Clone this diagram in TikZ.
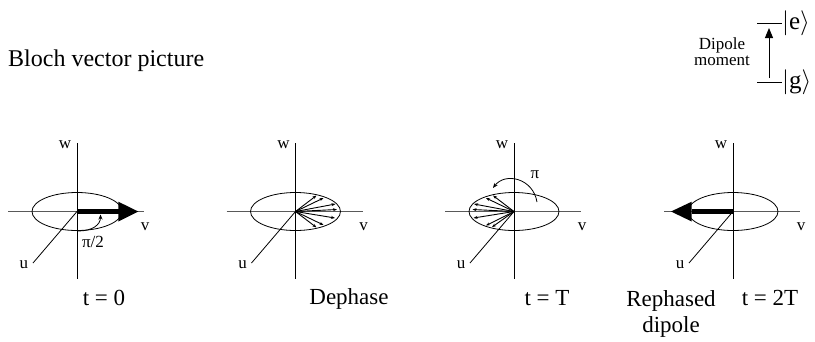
\documentclass[tikz,border=0pt]{standalone}
\usepackage{fix-cm}
\usepackage{fontspec}
\setmainfont{Liberation Serif}
\usetikzlibrary{arrows.meta}
\begin{document}
\begin{tikzpicture}[x=1pt,y=-1pt,
  vaxis/.style={line width=0.8pt},
  haxis/.style={line width=0.8pt, black!65},
  ell/.style={line width=0.8pt},
  lbl/.style={font=\fontsize{17}{20}\selectfont, inner sep=0pt, anchor=base},
  capt/.style={font=\fontsize{23}{26}\selectfont, inner sep=0pt, anchor=base},
  spin/.style={line width=0.9pt, -{Stealth[length=4pt,width=3pt]}},
  rot/.style={line width=0.8pt, -{Stealth[length=5pt,width=4pt]}},
  ]
\useasboundingbox (0,0) rectangle (815,341);

% title
\node[font=\fontsize{24}{28}\selectfont, inner sep=0pt, anchor=base west] (title) at (8,66) {Bloch vector picture};

% dipole inset
\coordinate (e1) at (757,23); \coordinate (e2) at (782,23);
\coordinate (g1) at (757,82); \coordinate (g2) at (782,82);
\draw[line width=0.8pt] (e1) -- (e2);
\draw[line width=0.8pt] (g1) -- (g2);
\coordinate (da) at (769,78); \coordinate (db) at (769,28);
\draw[line width=0.9pt, -{Triangle[length=10pt,width=8pt]}] (da) -- (db);
\node[font=\fontsize{25}{28}\selectfont, inner sep=0pt, anchor=west] (ke) at (782,23) {$|$e$\rangle$};
\node[font=\fontsize{25}{28}\selectfont, inner sep=0pt, anchor=west] (kg) at (782,82) {$|$g$\rangle$};
\node[lbl] (dip1) at (722,49) {Dipole};
\node[lbl] (dip2) at (722,65) {moment};

% four Bloch diagrams
\foreach \n/\x in {1/77,2/295.5,3/514,4/733} {
  \coordinate (c\n) at (\x,211.5);
  \coordinate (u\n) at (\x-44,263);
  \draw[haxis] (\x-69,211.5) -- (\x+67,211.5);
  \draw[vaxis] (\x,143) -- (\x,279);
  \draw[ell] (c\n) ellipse [x radius=45, y radius=19];
  \draw[line width=0.8pt] (c\n) -- (u\n);
  \node[lbl] (w\n) at (\x-12,148) {w};
  \node[lbl] (v\n) at (\x+68,230) {v};
  \node[lbl] (ul\n) at (\x-53,268) {u};
}

% diagram 1: pi/2 pulse, vector along v
\fill (77,209.3) rectangle (119,214);
\fill (118.3,201.7) -- (138.3,211.5) -- (118.3,221.5) -- cycle;
\coordinate (r1a) at (78,231);
\coordinate (r1b) at (100.5,214.5);
\draw[rot] (r1a) .. controls (92,231) and (100.5,225) .. (r1b);
\node[lbl] (p2) at (93,247) {π/2};
\node[capt] (t0) at (104,305) {t = 0};

% diagram 2: dephasing
\foreach \dx/\dy in {21/-16, 28/-13.5, 40/-7.5, 41.5/-2, 39.5/6.5, 28/13.5, 21/16} {
  \draw[spin] (c2) -- ++(\dx,\dy);
}
\node[capt] (deph) at (349,304) {Dephase};

% diagram 3: after pi pulse
\foreach \dx/\dy in {-21/-16, -28/-13.5, -40/-7.5, -41.5/-2, -40.5/6.5, -28/14, -22/15.6} {
  \draw[spin] (c3) -- ++(\dx,\dy);
}
\coordinate (r3a) at (537,202);
\coordinate (r3b) at (493,188);
\draw[rot] (r3a) .. controls (533,178) and (505,172) .. (r3b);
\node[lbl] (pi) at (535,178) {π};
\node[capt] (tT) at (547,305) {t = T};

% diagram 4: rephased
\fill (691.7,209.3) rectangle (733,214);
\fill (691.7,201.7) -- (671,211.5) -- (691.7,221.5) -- cycle;
\node[capt] (reph1) at (671,306) {Rephased};
\node[capt] (reph2) at (671,332) {dipole};
\node[capt] (t2T) at (770,305) {t = 2T};
\end{tikzpicture}
\end{document}
